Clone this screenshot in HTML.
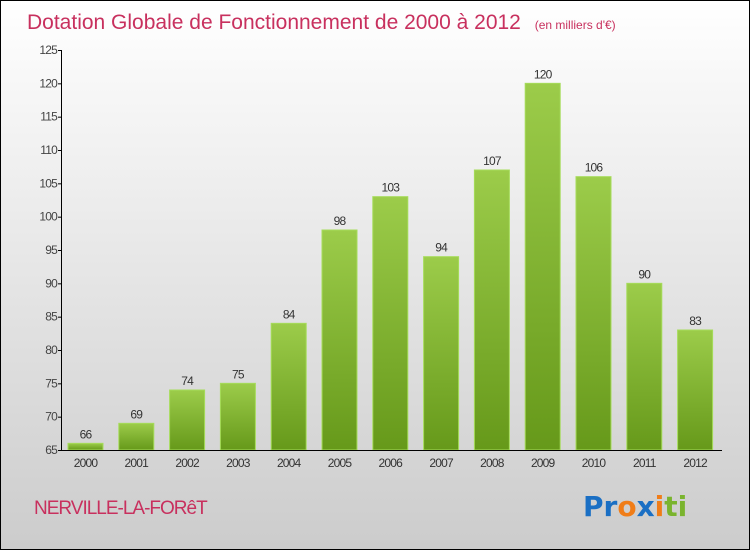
<!DOCTYPE html>
<html><head><meta charset="utf-8"><style>
body{margin:0}
#c{width:750px;height:550px;position:relative;box-sizing:border-box;border:1px solid #000;background:linear-gradient(#fff,#ccc);font-family:"Liberation Sans",sans-serif;overflow:hidden}
</style></head><body>
<div id="c">
<svg id="s" width="748" height="548" viewBox="1 1 748 548" xmlns="http://www.w3.org/2000/svg">
<defs><linearGradient id="g" x1="0" y1="0" x2="0" y2="1"><stop offset="0" stop-color="#9ccc4a"/><stop offset="1" stop-color="#66991a"/></linearGradient></defs>
<text x="27" y="29" font-size="21" fill="#c8305e">Dotation Globale de Fonctionnement de 2000 à 2012 <tspan font-size="12" dx="8">(en milliers d'€)</tspan></text>
<g id="yaxis"></g><g id="bars"></g>
<line x1="61.5" y1="50" x2="61.5" y2="450" stroke="#000"/>
<line x1="61" y1="450.5" x2="722" y2="450.5" stroke="#000"/>
<text x="34" y="514" font-size="19" fill="#c8305e" letter-spacing="-1">NERVILLE-LA-FORêT</text>
<text x="583" y="516" font-size="28" font-family="'DejaVu Sans',sans-serif" font-weight="bold"><tspan fill="#1a6fc4">Pr</tspan><tspan fill="#f07d18">o</tspan><tspan fill="#1a6fc4">x</tspan><tspan fill="#f07d18">i</tspan><tspan fill="#7ab42e">ti</tspan></text>
</svg></div>
<script>
const years=["2000","2001","2002","2003","2004","2005","2006","2007","2008","2009","2010","2011","2012"];
const values=[66,69,74,75,84,98,103,94,107,120,106,90,83];
const yTicks=[65,70,75,80,85,90,95,100,105,110,115,120,125];
const NS="http://www.w3.org/2000/svg";
const y=v=>450-(v-65)*400/60;
const x=i=>85.5+i*50.8;
function mk(t,a,p){const e=document.createElementNS(NS,t);for(const k in a)e.setAttribute(k,a[k]);p.appendChild(e);return e;}
const ya=document.getElementById('yaxis'),ba=document.getElementById('bars');
yTicks.forEach(v=>{
 const l=mk('line',{x1:58,x2:62,y1:y(v)+.5,y2:y(v)+.5,stroke:'#000'},ya);
 
 
 const t=mk('text',{x:57,y:y(v)+4,'font-size':12,fill:'#444','text-anchor':'end','letter-spacing':'-0.8'},ya);t.textContent=v;
 
 
});
values.forEach((v,i)=>{
 const r=mk('rect',{x:x(i)-17.5,y:y(v),width:35,height:450-y(v),fill:'url(#g)',stroke:'#a6dc5a','stroke-width':1},ba);
 
 
 const t=mk('text',{x:x(i),y:y(v)-5,'font-size':12,fill:'#333','text-anchor':'middle','letter-spacing':'-0.8'},ba);t.textContent=v;
 
 
 const xl=mk('text',{x:x(i),y:467,'font-size':12,fill:'#333','text-anchor':'middle','letter-spacing':'-0.8'},ba);xl.textContent=years[i];
 
 
});
</script>
</body></html>
